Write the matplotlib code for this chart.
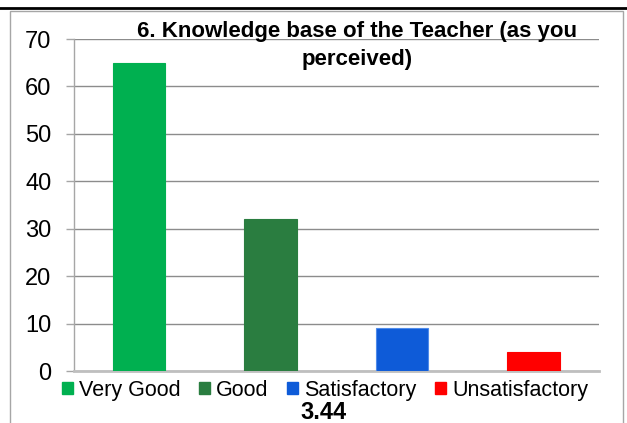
import matplotlib
matplotlib.use('Agg')
import matplotlib.pyplot as plt
from matplotlib.patches import Patch, Rectangle
from matplotlib.lines import Line2D

plt.rcParams['font.family'] = ['Liberation Sans', 'DejaVu Sans']

# Data
categories = ['Very Good', 'Good', 'Satisfactory', 'Unsatisfactory']
counts = [65, 32, 9, 4]
colors = ['#00B050', '#2A7D40', '#0E5BD8', '#FF0000']
edge_colors = ['#00B050', '#2A7D40', '#4F8BEA', '#FF0000']
yticks = [0, 10, 20, 30, 40, 50, 60, 70]
title = '6. Knowledge base of the Teacher (as you\nperceived)'
mean_label = '3.44'

W, H = 627, 423
fig = plt.figure(figsize=(W / 100, H / 100), dpi=100)

# outer frame and the black rule above it
fig.add_artist(Rectangle((10 / W, -0.05), 613 / W, 1.05 - 11 / H,
                         transform=fig.transFigure, fill=False,
                         edgecolor='#A6A6A6', linewidth=1.0))
fig.add_artist(Line2D([0, 1], [1 - 8 / H, 1 - 8 / H],
                      transform=fig.transFigure, color='black', linewidth=2.0))

ax = fig.add_axes([73.5 / W, 1 - 371 / H, 525.5 / W, 332 / H])
x = range(len(categories))
ax.bar(x, counts, width=0.4, color=colors, edgecolor=edge_colors, linewidth=0.8, zorder=3)

ax.set_xlim(-0.5, len(categories) - 0.5)
ax.set_ylim(0, 70)
ax.set_yticks(yticks)
ax.set_yticklabels([str(t) for t in yticks], fontsize=17)
ax.set_xticks([])
ax.yaxis.grid(True, color='#8C8C8C', linewidth=1.0, zorder=0)
ax.set_axisbelow(True)

for side in ['top', 'right']:
    ax.spines[side].set_visible(False)
ax.spines['left'].set_color('#A6A6A6')
ax.spines['left'].set_linewidth(1.0)
ax.spines['bottom'].set_color('#BFBFBF')
ax.spines['bottom'].set_linewidth(2.0)
ax.tick_params(axis='y', length=6, width=1.0, color='#A6A6A6', pad=10)

fig.text(357 / W, 1 - 45.5 / H, title, ha='center', va='center',
         fontsize=16, fontweight='bold', linespacing=1.45)

handles = [Patch(facecolor=c, edgecolor=c) for c in colors]
fig.legend(handles, categories, loc='center', bbox_to_anchor=(325 / W, 1 - 390 / H),
           ncol=4, frameon=False, fontsize=15.5, handlelength=0.5, handleheight=0.5,
           handletextpad=0.3, columnspacing=0.85, borderpad=0)

fig.text(323 / W, 1 - 412 / H, mean_label, ha='center', va='center',
         fontsize=17, fontweight='bold')

fig.savefig('out.png', dpi=100)
